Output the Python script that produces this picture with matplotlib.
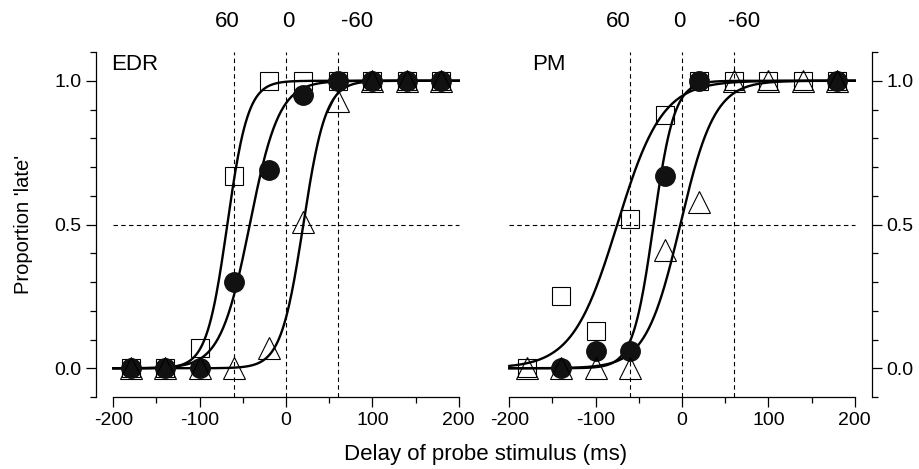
import numpy as np
import matplotlib
matplotlib.use("Agg")
import matplotlib.pyplot as plt
from matplotlib.ticker import MultipleLocator, FuncFormatter

plt.rcParams["font.family"] = ["Liberation Sans", "DejaVu Sans"]

# probe delays (ms)
delays = [-180, -140, -100, -60, -20, 20, 60, 100, 140, 180]

# EDR observer
edr_square = [0, 0, 0.07, 0.67, 1.0, 1.0, 1.0, 1.0, 1.0, 1.0]
edr_circle = [0, 0, 0, 0.30, 0.69, 0.95, 1.0, 1.0, 1.0, 1.0]
edr_triangle = [0, 0, 0, 0, 0.07, 0.51, 0.93, 1.0, 1.0, 1.0]
# logistic fits (midpoint, spread) for square, circle, triangle
edr_fits = [(-68, 12), (-42, 17), (20, 13)]

# PM observer
pm_square = [0, 0.25, 0.13, 0.52, 0.88, 1.0, 1.0, 1.0, 1.0, 1.0]
pm_circle = [np.nan, 0, 0.06, 0.06, 0.67, 1.0, np.nan, np.nan, np.nan, 1.0]
pm_triangle = [0, 0, 0, 0, 0.41, 0.58, 1.0, 1.0, 1.0, 1.0]
pm_fits = [(-75, 26), (-33, 12), (-2, 20)]

ref_lines = [-60, 0, 60]
top_labels = ["60", "0", "-60"]


def logistic(x, mu, s):
    return 1.0 / (1.0 + np.exp(-(x - mu) / s))


def draw_panel(ax, name, name_x, square, circle, triangle, fits, label_x, side):
    xs = np.linspace(-200, 200, 400)
    for mu, s in fits:
        ax.plot(xs, logistic(xs, mu, s), color="black", lw=1.7, zorder=2)

    ax.plot(delays, square, ls="none", marker="s", ms=12.5, mfc="none",
            mec="black", mew=0.8, zorder=3)
    ax.plot(delays, circle, ls="none", marker="o", ms=14, mfc="#111111",
            mec="#111111", zorder=3)
    ax.plot(delays, triangle, ls="none", marker="^", ms=16, mfc="none",
            mec="black", mew=0.8, zorder=4)

    for xv in ref_lines:
        ax.axvline(xv, color="black", lw=0.8, ls=(0, (4, 3)), zorder=1)
    ax.hlines(0.5, -200, 200, color="black", lw=0.8, ls=(0, (4, 3)), zorder=1)

    ax.set_xlim(-220, 220)
    ax.set_ylim(-0.1, 1.1)
    ax.spines["top"].set_visible(False)
    ax.spines["bottom"].set_bounds(-200, 200)
    ax.xaxis.set_major_locator(MultipleLocator(100))
    ax.xaxis.set_minor_locator(MultipleLocator(50))
    ax.yaxis.set_major_locator(MultipleLocator(0.5))
    ax.yaxis.set_minor_locator(MultipleLocator(0.1))
    ax.tick_params(which="major", length=7, width=0.9, labelsize=14)
    ax.tick_params(which="minor", length=4, width=0.9)
    ax.xaxis.set_major_formatter(FuncFormatter(lambda v, p: f"{v:.0f}"))
    ax.yaxis.set_major_formatter(FuncFormatter(lambda v, p: f"{v:.1f}"))

    if side == "left":
        ax.spines["right"].set_visible(False)
    else:
        ax.spines["left"].set_visible(False)
        ax.yaxis.tick_right()
        ax.yaxis.set_label_position("right")
    for sp in ax.spines.values():
        sp.set_linewidth(0.9)

    ax.text(name_x, 0.965, name, transform=ax.transAxes, fontsize=16,
            ha="left", va="center")
    for xv, lab in zip(label_x, top_labels):
        ax.text(xv, 1.087, lab, transform=ax.get_xaxis_transform(),
                fontsize=16, ha="center", va="center")


fig = plt.figure(figsize=(9.19, 4.69), dpi=100)
ax1 = fig.add_axes([0.1045, 0.1535, 0.4135, 0.7356])
ax2 = fig.add_axes([0.5354, 0.1535, 0.4135, 0.7356])

draw_panel(ax1, "EDR", 0.04, edr_square, edr_circle, edr_triangle, edr_fits,
           [-68, 3, 82], "left")
draw_panel(ax2, "PM", 0.105, pm_square, pm_circle, pm_triangle, pm_fits,
           [-74, -3, 72], "right")

ax1.set_ylabel("Proportion 'late'", fontsize=14.5, labelpad=15)
fig.text(0.528, 0.03, "Delay of probe stimulus (ms)", fontsize=16,
         ha="center", va="center")

fig.savefig("out.png", dpi=100)
